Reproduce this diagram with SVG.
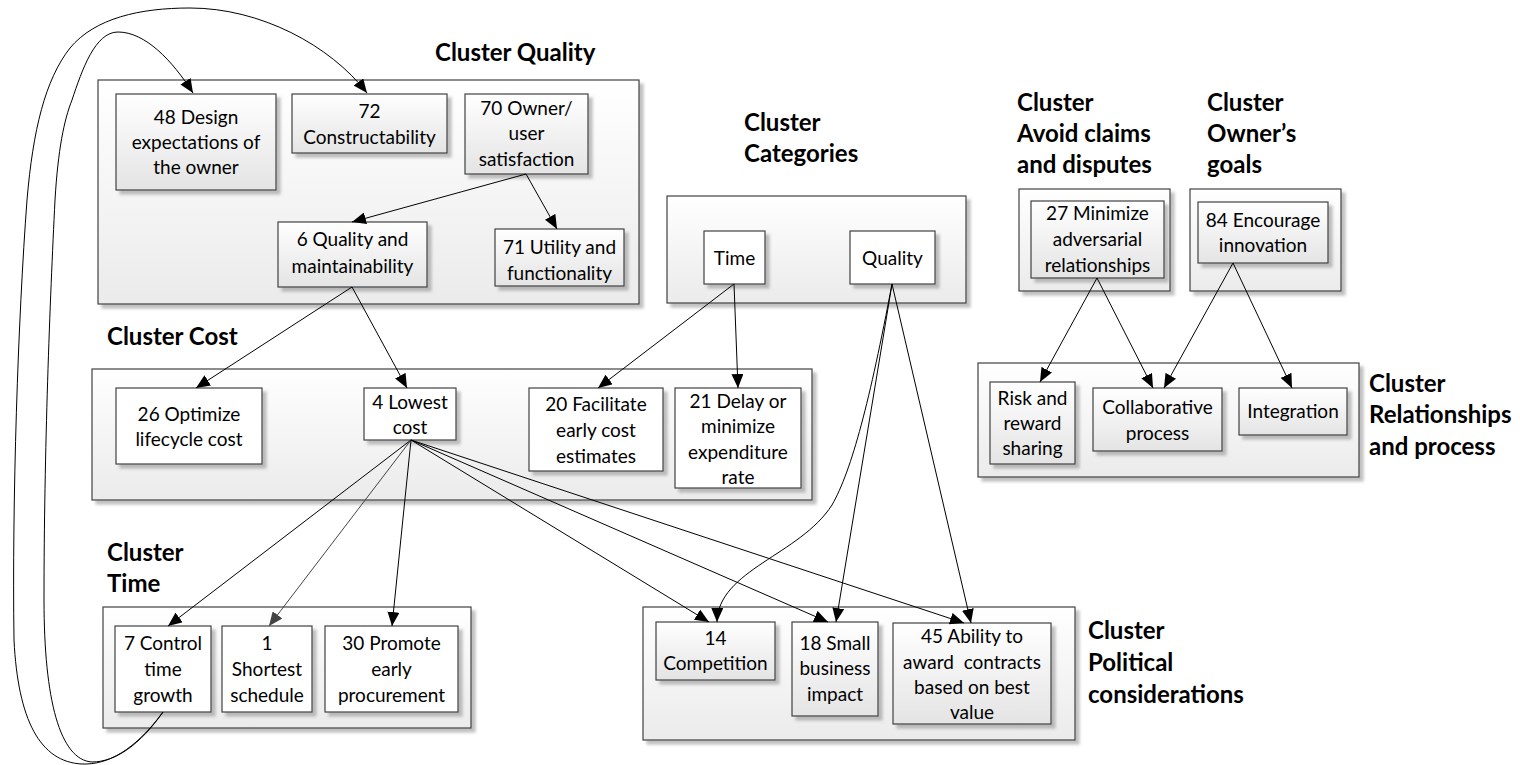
<svg xmlns="http://www.w3.org/2000/svg" width="1520" height="765" viewBox="0 0 1520 765">
  <style>
    .cl { fill: url(#gCluster); stroke: #404040; stroke-width: 1.2; filter: url(#shadow); }
    .nd { fill: url(#gNode); stroke: #404040; stroke-width: 1.2; filter: url(#shadow); }
    .nw { fill: #ffffff; stroke: #404040; stroke-width: 1.2; filter: url(#shadow); }
    .tt { font-family: Lato, "Liberation Sans", sans-serif; font-weight: bold; font-size: 24px; fill: #000; }
    .tx { font-family: Lato, "Liberation Sans", sans-serif; font-size: 19px; fill: #000; text-anchor: middle; }
    .cn path { fill: none; stroke: #000; stroke-width: 1; marker-end: url(#arr); }
    .cn path.g { stroke: #444; marker-end: url(#arrG); }
  </style>
  <defs>
    <linearGradient id="gCluster" x1="0" y1="0" x2="0" y2="1">
      <stop offset="0" stop-color="#ffffff"/>
      <stop offset="1" stop-color="#ebebeb"/>
    </linearGradient>
    <linearGradient id="gNode" x1="0" y1="0" x2="0" y2="1">
      <stop offset="0" stop-color="#ffffff"/>
      <stop offset="1" stop-color="#e4e4e4"/>
    </linearGradient>
    <filter id="shadow" x="-10%" y="-10%" width="130%" height="130%">
      <feDropShadow dx="4" dy="4" stdDeviation="1.5" flood-color="#808080" flood-opacity="0.5"/>
    </filter>
    <marker id="arr" markerUnits="userSpaceOnUse" markerWidth="14" markerHeight="12" refX="14" refY="6" orient="auto">
      <path d="M0,0 L14,6 L0,12 z" fill="#000"/>
    </marker>
    <marker id="arrG" markerUnits="userSpaceOnUse" markerWidth="14" markerHeight="12" refX="14" refY="6" orient="auto">
      <path d="M0,0 L14,6 L0,12 z" fill="#444"/>
    </marker>
  </defs>

  <rect width="1520" height="765" fill="#ffffff"/>

  <!-- clusters -->
  <g id="cluster-quality">
    <rect class="cl" x="98" y="80" width="541" height="224"/>
    <text class="tt" x="435" y="61">Cluster Quality</text>
  </g>
  <g id="cluster-categories">
    <rect class="cl" x="667" y="196" width="299" height="107"/>
    <text class="tt" x="744" y="131">Cluster</text>
    <text class="tt" x="744" y="162">Categories</text>
  </g>
  <g id="cluster-avoid">
    <rect class="cl" x="1019" y="189" width="151" height="102"/>
    <text class="tt" x="1017" y="111">Cluster</text>
    <text class="tt" x="1017" y="142">Avoid claims</text>
    <text class="tt" x="1017" y="173">and disputes</text>
  </g>
  <g id="cluster-owner">
    <rect class="cl" x="1190" y="189" width="151" height="102"/>
    <text class="tt" x="1207" y="111">Cluster</text>
    <text class="tt" x="1207" y="142">Owner’s</text>
    <text class="tt" x="1207" y="173">goals</text>
  </g>
  <g id="cluster-relationships">
    <rect class="cl" x="978" y="363" width="381" height="114"/>
    <text class="tt" x="1369" y="392">Cluster</text>
    <text class="tt" x="1369" y="423">Relationships</text>
    <text class="tt" x="1369" y="455">and process</text>
  </g>
  <g id="cluster-cost">
    <rect class="cl" x="92" y="369" width="720" height="131"/>
    <text class="tt" x="107" y="345">Cluster Cost</text>
  </g>
  <g id="cluster-time">
    <rect class="cl" x="103" y="607" width="368" height="121"/>
    <text class="tt" x="107" y="561">Cluster</text>
    <text class="tt" x="107" y="592">Time</text>
  </g>
  <g id="cluster-political">
    <rect class="cl" x="643" y="607" width="432" height="133"/>
    <text class="tt" x="1088" y="639">Cluster</text>
    <text class="tt" x="1088" y="671">Political</text>
    <text class="tt" x="1088" y="703">considerations</text>
  </g>

  <!-- Quality cluster nodes -->
  <g id="n48">
    <rect class="nd" x="116" y="94" width="160" height="96"/>
    <text class="tx" x="196" y="124">48 Design</text>
    <text class="tx" x="196" y="149">expectations of</text>
    <text class="tx" x="196" y="174">the owner</text>
  </g>
  <g id="n72">
    <rect class="nd" x="292" y="94" width="155" height="59"/>
    <text class="tx" x="369.5" y="118">72</text>
    <text class="tx" x="369.5" y="144">Constructability</text>
  </g>
  <g id="n70">
    <rect class="nd" x="465" y="94" width="123" height="80"/>
    <text class="tx" x="526.5" y="115">70 Owner/</text>
    <text class="tx" x="526.5" y="140">user</text>
    <text class="tx" x="526.5" y="166">satisfaction</text>
  </g>
  <g id="n6">
    <rect class="nd" x="278" y="222" width="149" height="65"/>
    <text class="tx" x="352.5" y="246">6 Quality and</text>
    <text class="tx" x="352.5" y="273">maintainability</text>
  </g>
  <g id="n71">
    <rect class="nd" x="495" y="229" width="129" height="57"/>
    <text class="tx" x="559.5" y="254">71 Utility and</text>
    <text class="tx" x="559.5" y="280">functionality</text>
  </g>

  <!-- Categories nodes -->
  <g id="cat-time">
    <rect class="nw" x="704" y="231" width="61" height="53"/>
    <text class="tx" x="734.5" y="265">Time</text>
  </g>
  <g id="cat-quality">
    <rect class="nw" x="850" y="231" width="85" height="53"/>
    <text class="tx" x="892.5" y="265">Quality</text>
  </g>

  <!-- Avoid claims / Owner's goals nodes -->
  <g id="n27">
    <rect class="nd" x="1031" y="201" width="133" height="77"/>
    <text class="tx" x="1097.5" y="220">27 Minimize</text>
    <text class="tx" x="1097.5" y="246">adversarial</text>
    <text class="tx" x="1097.5" y="272">relationships</text>
  </g>
  <g id="n84">
    <rect class="nd" x="1198" y="202" width="130" height="61"/>
    <text class="tx" x="1263" y="227">84 Encourage</text>
    <text class="tx" x="1263" y="252">innovation</text>
  </g>

  <!-- Relationships and process nodes -->
  <g id="rel-risk">
    <rect class="nd" x="990" y="382" width="85" height="82"/>
    <text class="tx" x="1032.5" y="405">Risk and</text>
    <text class="tx" x="1032.5" y="430">reward</text>
    <text class="tx" x="1032.5" y="455">sharing</text>
  </g>
  <g id="rel-collab">
    <rect class="nd" x="1093" y="388" width="129" height="63"/>
    <text class="tx" x="1157.5" y="414">Collaborative</text>
    <text class="tx" x="1157.5" y="440">process</text>
  </g>
  <g id="rel-integration">
    <rect class="nd" x="1239" y="388" width="108" height="47"/>
    <text class="tx" x="1293" y="418">Integration</text>
  </g>

  <!-- Cost nodes -->
  <g id="n26">
    <rect class="nw" x="116" y="388" width="146" height="76"/>
    <text class="tx" x="189" y="421">26 Optimize</text>
    <text class="tx" x="189" y="446">lifecycle cost</text>
  </g>
  <g id="n4">
    <rect class="nw" x="364" y="388" width="92" height="52"/>
    <text class="tx" x="410" y="409">4 Lowest</text>
    <text class="tx" x="410" y="434">cost</text>
  </g>
  <g id="n20">
    <rect class="nw" x="529" y="388" width="134" height="83"/>
    <text class="tx" x="596" y="411">20 Facilitate</text>
    <text class="tx" x="596" y="437">early cost</text>
    <text class="tx" x="596" y="463">estimates</text>
  </g>
  <g id="n21">
    <rect class="nw" x="675" y="388" width="126" height="100"/>
    <text class="tx" x="738" y="408">21 Delay or</text>
    <text class="tx" x="738" y="433">minimize</text>
    <text class="tx" x="738" y="459">expenditure</text>
    <text class="tx" x="738" y="484">rate</text>
  </g>

  <!-- Time nodes -->
  <g id="n7">
    <rect class="nw" x="115" y="626" width="96" height="86"/>
    <text class="tx" x="163" y="650">7 Control</text>
    <text class="tx" x="163" y="676">time</text>
    <text class="tx" x="163" y="702">growth</text>
  </g>
  <g id="n1">
    <rect class="nw" x="222" y="626" width="90" height="86"/>
    <text class="tx" x="267" y="650">1</text>
    <text class="tx" x="267" y="676">Shortest</text>
    <text class="tx" x="267" y="702">schedule</text>
  </g>
  <g id="n30">
    <rect class="nw" x="325" y="626" width="133" height="86"/>
    <text class="tx" x="391.5" y="650">30 Promote</text>
    <text class="tx" x="391.5" y="676">early</text>
    <text class="tx" x="391.5" y="702">procurement</text>
  </g>

  <!-- Political nodes -->
  <g id="n14">
    <rect class="nd" x="656" y="622" width="119" height="58"/>
    <text class="tx" x="715.5" y="645">14</text>
    <text class="tx" x="715.5" y="670">Competition</text>
  </g>
  <g id="n18">
    <rect class="nd" x="792" y="622" width="86" height="94"/>
    <text class="tx" x="835" y="650">18 Small</text>
    <text class="tx" x="835" y="675">business</text>
    <text class="tx" x="835" y="701">impact</text>
  </g>
  <g id="n45">
    <rect class="nd" x="893" y="623" width="158" height="101"/>
    <text class="tx" x="972" y="643">45 Ability to</text>
    <text class="tx" x="972" y="669" style="white-space:pre">award  contracts</text>
    <text class="tx" x="972" y="694">based on best</text>
    <text class="tx" x="972" y="719">value</text>
  </g>

  <!-- connectors -->
  <g id="connectors" class="cn">
    <!-- feedback loops from 7 Control time growth -->
    <path d="M163,712 C135,750 108,765 82,764 C40,762 18,720 14,640 C12,500 18,320 27,200 C33,130 45,80 70,48 C95,18 140,8 190,8 C260,8 330,45 367,93"/>
    <path d="M163,712 C140,745 115,762 92,762 C60,760 44,700 44,600 C44,450 50,300 55,200 C58,150 64,120 72,100 C82,70 95,32 118,32 C145,32 172,60 193,93"/>
    <!-- quality cluster -->
    <path d="M526,174 L352,222"/>
    <path d="M526,174 L557,229"/>
    <path d="M352,287 L196,388"/>
    <path d="M352,287 L407,388"/>
    <!-- categories -->
    <path d="M734,284 L598,388"/>
    <path d="M734,284 L738,388"/>
    <path d="M892,284 C870,400 852,470 832,505 C800,555 718,570 717,622"/>
    <path d="M892,284 L836,622"/>
    <path d="M892,284 L971,623"/>
    <!-- lowest cost -->
    <path d="M411,440 L168,626"/>
    <path class="g" d="M411,440 L269,626"/>
    <path d="M411,440 L392,626"/>
    <path d="M411,440 L709,622"/>
    <path d="M411,440 L828,622"/>
    <path d="M411,440 L964,623"/>
    <!-- avoid claims / owner's goals -->
    <path d="M1097,278 L1040,382"/>
    <path d="M1097,278 L1153,388"/>
    <path d="M1233,263 L1164,388"/>
    <path d="M1233,263 L1292,388"/>
  </g>
</svg>
